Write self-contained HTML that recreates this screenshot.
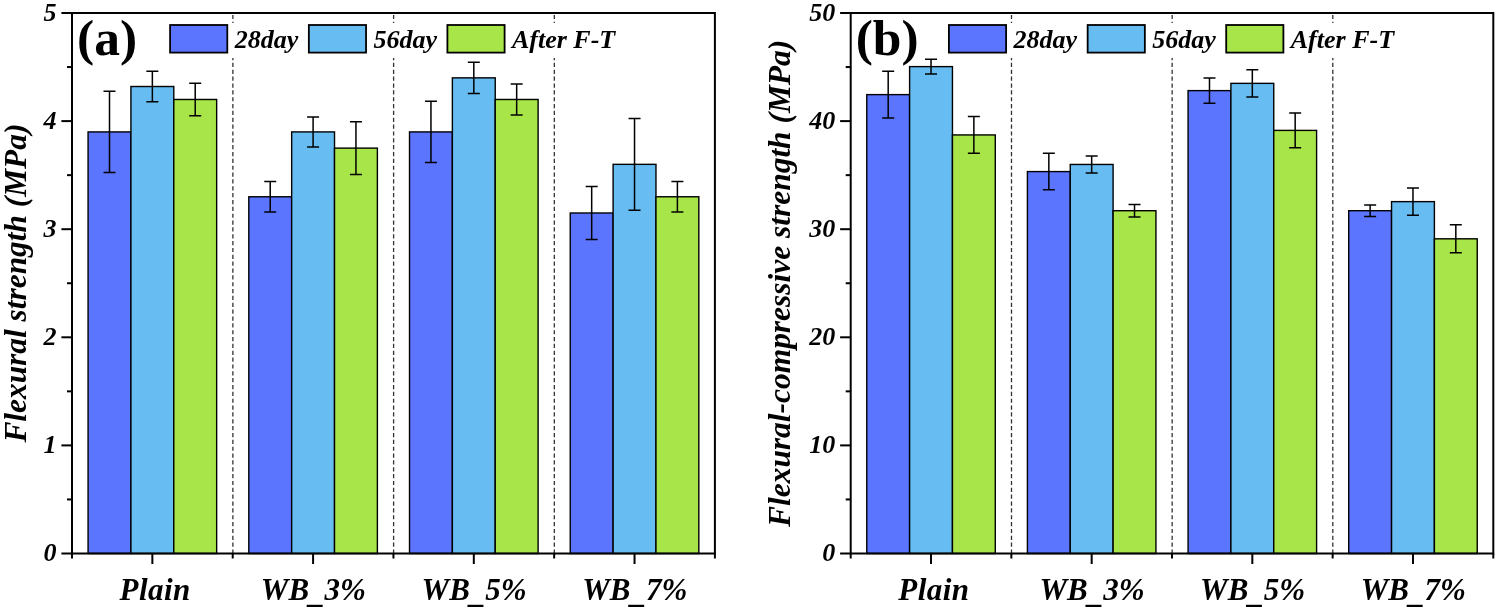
<!DOCTYPE html>
<html><head><meta charset="utf-8"><style>
html,body{margin:0;padding:0;background:#fff;}
body{width:1498px;height:610px;overflow:hidden;}
svg{display:block;will-change:transform;}
.bi{font-family:"Liberation Serif", serif;font-weight:bold;font-style:italic;fill:#000;}
.b{font-family:"Liberation Serif", serif;font-weight:bold;fill:#000;}
</style></head><body>
<svg width="1498" height="610" viewBox="0 0 1498 610">
<rect width="1498" height="610" fill="#fff"/>
<line x1="232.88" y1="14.90" x2="232.88" y2="553.50" stroke="#333" stroke-width="1.3" stroke-dasharray="4.2 2.653"/>
<line x1="393.60" y1="14.90" x2="393.60" y2="553.50" stroke="#333" stroke-width="1.3" stroke-dasharray="4.2 2.653"/>
<line x1="554.32" y1="14.90" x2="554.32" y2="553.50" stroke="#333" stroke-width="1.3" stroke-dasharray="4.2 2.653"/>
<rect x="88.07" y="131.91" width="42.86" height="421.59" fill="#5b75ff" stroke="#000" stroke-width="1.4"/>
<rect x="130.93" y="86.51" width="42.86" height="466.99" fill="#67bdf2" stroke="#000" stroke-width="1.4"/>
<rect x="173.79" y="99.48" width="42.86" height="454.02" fill="#a8e548" stroke="#000" stroke-width="1.4"/>
<path d="M109.50 91.37V172.45M103.50 91.37H115.50M103.50 172.45H115.50" stroke="#000" stroke-width="1.5" fill="none"/>
<path d="M152.36 71.37V101.64M146.36 71.37H158.36M146.36 101.64H158.36" stroke="#000" stroke-width="1.5" fill="none"/>
<path d="M195.22 83.26V115.70M189.22 83.26H201.22M189.22 115.70H201.22" stroke="#000" stroke-width="1.5" fill="none"/>
<rect x="248.80" y="196.77" width="42.86" height="356.73" fill="#5b75ff" stroke="#000" stroke-width="1.4"/>
<rect x="291.66" y="131.91" width="42.86" height="421.59" fill="#67bdf2" stroke="#000" stroke-width="1.4"/>
<rect x="334.52" y="148.12" width="42.86" height="405.38" fill="#a8e548" stroke="#000" stroke-width="1.4"/>
<path d="M270.23 181.42V212.12M264.23 181.42H276.23M264.23 212.12H276.23" stroke="#000" stroke-width="1.5" fill="none"/>
<path d="M313.09 116.88V146.94M307.09 116.88H319.09M307.09 146.94H319.09" stroke="#000" stroke-width="1.5" fill="none"/>
<path d="M355.95 121.75V174.50M349.95 121.75H361.95M349.95 174.50H361.95" stroke="#000" stroke-width="1.5" fill="none"/>
<rect x="409.52" y="131.91" width="42.86" height="421.59" fill="#5b75ff" stroke="#000" stroke-width="1.4"/>
<rect x="452.38" y="77.86" width="42.86" height="475.64" fill="#67bdf2" stroke="#000" stroke-width="1.4"/>
<rect x="495.24" y="99.48" width="42.86" height="454.02" fill="#a8e548" stroke="#000" stroke-width="1.4"/>
<path d="M430.95 101.21V162.61M424.95 101.21H436.95M424.95 162.61H436.95" stroke="#000" stroke-width="1.5" fill="none"/>
<path d="M473.81 62.19V93.53M467.81 62.19H479.81M467.81 93.53H479.81" stroke="#000" stroke-width="1.5" fill="none"/>
<path d="M516.67 83.91V115.05M510.67 83.91H522.67M510.67 115.05H522.67" stroke="#000" stroke-width="1.5" fill="none"/>
<rect x="570.25" y="212.99" width="42.86" height="340.51" fill="#5b75ff" stroke="#000" stroke-width="1.4"/>
<rect x="613.11" y="164.34" width="42.86" height="389.16" fill="#67bdf2" stroke="#000" stroke-width="1.4"/>
<rect x="655.97" y="196.77" width="42.86" height="356.73" fill="#a8e548" stroke="#000" stroke-width="1.4"/>
<path d="M591.68 186.50V239.47M585.68 186.50H597.68M585.68 239.47H597.68" stroke="#000" stroke-width="1.5" fill="none"/>
<path d="M634.54 118.51V210.17M628.54 118.51H640.54M628.54 210.17H640.54" stroke="#000" stroke-width="1.5" fill="none"/>
<path d="M677.40 181.53V212.01M671.40 181.53H683.40M671.40 212.01H683.40" stroke="#000" stroke-width="1.5" fill="none"/>
<rect x="165.20" y="23.0" width="456.00" height="35.0" fill="#fff"/>
<rect x="170.10" y="25.0" width="57.2" height="27.6" fill="#5b75ff" stroke="#000" stroke-width="1.8"/>
<text x="234.65" y="47.5" class="bi" font-size="26">28day</text>
<rect x="308.85" y="25.0" width="57.2" height="27.6" fill="#67bdf2" stroke="#000" stroke-width="1.8"/>
<text x="373.40" y="47.5" class="bi" font-size="26">56day</text>
<rect x="447.40" y="25.0" width="57.2" height="27.6" fill="#a8e548" stroke="#000" stroke-width="1.8"/>
<text x="511.95" y="47.5" class="bi" font-size="26">After F-T</text>
<rect x="72.00" y="13.00" width="642.90" height="540.50" fill="none" stroke="#000" stroke-width="2"/>
<line x1="61.40" y1="553.50" x2="72.00" y2="553.50" stroke="#000" stroke-width="2"/>
<text x="56.50" y="561.20" class="bi" font-size="26" text-anchor="end">0</text>
<line x1="67.00" y1="499.45" x2="72.00" y2="499.45" stroke="#000" stroke-width="2"/>
<line x1="61.40" y1="445.40" x2="72.00" y2="445.40" stroke="#000" stroke-width="2"/>
<text x="56.50" y="453.10" class="bi" font-size="26" text-anchor="end">1</text>
<line x1="67.00" y1="391.35" x2="72.00" y2="391.35" stroke="#000" stroke-width="2"/>
<line x1="61.40" y1="337.30" x2="72.00" y2="337.30" stroke="#000" stroke-width="2"/>
<text x="56.50" y="345.00" class="bi" font-size="26" text-anchor="end">2</text>
<line x1="67.00" y1="283.25" x2="72.00" y2="283.25" stroke="#000" stroke-width="2"/>
<line x1="61.40" y1="229.20" x2="72.00" y2="229.20" stroke="#000" stroke-width="2"/>
<text x="56.50" y="236.90" class="bi" font-size="26" text-anchor="end">3</text>
<line x1="67.00" y1="175.15" x2="72.00" y2="175.15" stroke="#000" stroke-width="2"/>
<line x1="61.40" y1="121.10" x2="72.00" y2="121.10" stroke="#000" stroke-width="2"/>
<text x="56.50" y="128.80" class="bi" font-size="26" text-anchor="end">4</text>
<line x1="67.00" y1="67.05" x2="72.00" y2="67.05" stroke="#000" stroke-width="2"/>
<line x1="61.40" y1="13.00" x2="72.00" y2="13.00" stroke="#000" stroke-width="2"/>
<text x="56.50" y="20.70" class="bi" font-size="26" text-anchor="end">5</text>
<line x1="72.00" y1="553.50" x2="72.00" y2="558.50" stroke="#000" stroke-width="2"/>
<line x1="232.72" y1="553.50" x2="232.72" y2="558.50" stroke="#000" stroke-width="2"/>
<line x1="393.45" y1="553.50" x2="393.45" y2="558.50" stroke="#000" stroke-width="2"/>
<line x1="554.17" y1="553.50" x2="554.17" y2="558.50" stroke="#000" stroke-width="2"/>
<line x1="714.90" y1="553.50" x2="714.90" y2="558.50" stroke="#000" stroke-width="2"/>
<line x1="152.36" y1="553.50" x2="152.36" y2="564.00" stroke="#000" stroke-width="2"/>
<text x="155.16" y="600" class="bi" font-size="31" letter-spacing="0.45" text-anchor="middle">Plain</text>
<line x1="313.09" y1="553.50" x2="313.09" y2="564.00" stroke="#000" stroke-width="2"/>
<text x="313.39" y="600" class="bi" font-size="31" text-anchor="middle">WB<tspan dy="2.5">_</tspan><tspan dy="-2.5">3%</tspan></text>
<line x1="473.81" y1="553.50" x2="473.81" y2="564.00" stroke="#000" stroke-width="2"/>
<text x="474.11" y="600" class="bi" font-size="31" text-anchor="middle">WB<tspan dy="2.5">_</tspan><tspan dy="-2.5">5%</tspan></text>
<line x1="634.54" y1="553.50" x2="634.54" y2="564.00" stroke="#000" stroke-width="2"/>
<text x="634.84" y="600" class="bi" font-size="31" text-anchor="middle">WB<tspan dy="2.5">_</tspan><tspan dy="-2.5">7%</tspan></text>
<text x="77.00" y="55.25" class="b" font-size="51.5">(a)</text>
<text transform="translate(26.00 442.60) rotate(-90)" class="bi" font-size="31.38">Flexural strength (MPa)</text>
<line x1="1011.50" y1="14.90" x2="1011.50" y2="553.50" stroke="#333" stroke-width="1.3" stroke-dasharray="4.2 2.653"/>
<line x1="1172.15" y1="14.90" x2="1172.15" y2="553.50" stroke="#333" stroke-width="1.3" stroke-dasharray="4.2 2.653"/>
<line x1="1332.80" y1="14.90" x2="1332.80" y2="553.50" stroke="#333" stroke-width="1.3" stroke-dasharray="4.2 2.653"/>
<rect x="866.77" y="94.62" width="42.84" height="458.88" fill="#5b75ff" stroke="#000" stroke-width="1.4"/>
<rect x="909.61" y="66.62" width="42.84" height="486.88" fill="#67bdf2" stroke="#000" stroke-width="1.4"/>
<rect x="952.45" y="134.94" width="42.84" height="418.56" fill="#a8e548" stroke="#000" stroke-width="1.4"/>
<path d="M888.19 71.16V118.07M882.19 71.16H894.19M882.19 118.07H894.19" stroke="#000" stroke-width="1.5" fill="none"/>
<path d="M931.03 59.16V74.08M925.03 59.16H937.03M925.03 74.08H937.03" stroke="#000" stroke-width="1.5" fill="none"/>
<path d="M973.87 116.56V153.31M967.87 116.56H979.87M967.87 153.31H979.87" stroke="#000" stroke-width="1.5" fill="none"/>
<rect x="1027.41" y="171.58" width="42.84" height="381.92" fill="#5b75ff" stroke="#000" stroke-width="1.4"/>
<rect x="1070.25" y="164.45" width="42.84" height="389.05" fill="#67bdf2" stroke="#000" stroke-width="1.4"/>
<rect x="1113.10" y="210.71" width="42.84" height="342.79" fill="#a8e548" stroke="#000" stroke-width="1.4"/>
<path d="M1048.84 153.31V189.85M1042.84 153.31H1054.84M1042.84 189.85H1054.84" stroke="#000" stroke-width="1.5" fill="none"/>
<path d="M1091.67 156.02V172.88M1085.67 156.02H1097.67M1085.67 172.88H1097.67" stroke="#000" stroke-width="1.5" fill="none"/>
<path d="M1134.52 204.55V216.88M1128.52 204.55H1140.52M1128.52 216.88H1140.52" stroke="#000" stroke-width="1.5" fill="none"/>
<rect x="1188.07" y="90.62" width="42.84" height="462.88" fill="#5b75ff" stroke="#000" stroke-width="1.4"/>
<rect x="1230.90" y="83.37" width="42.84" height="470.13" fill="#67bdf2" stroke="#000" stroke-width="1.4"/>
<rect x="1273.75" y="130.40" width="42.84" height="423.10" fill="#a8e548" stroke="#000" stroke-width="1.4"/>
<path d="M1209.49 77.97V103.26M1203.49 77.97H1215.49M1203.49 103.26H1215.49" stroke="#000" stroke-width="1.5" fill="none"/>
<path d="M1252.33 69.86V96.89M1246.33 69.86H1258.33M1246.33 96.89H1258.33" stroke="#000" stroke-width="1.5" fill="none"/>
<path d="M1295.17 113.10V147.69M1289.17 113.10H1301.17M1289.17 147.69H1301.17" stroke="#000" stroke-width="1.5" fill="none"/>
<rect x="1348.71" y="210.71" width="42.84" height="342.79" fill="#5b75ff" stroke="#000" stroke-width="1.4"/>
<rect x="1391.55" y="201.63" width="42.84" height="351.87" fill="#67bdf2" stroke="#000" stroke-width="1.4"/>
<rect x="1434.39" y="238.82" width="42.84" height="314.68" fill="#a8e548" stroke="#000" stroke-width="1.4"/>
<path d="M1370.13 204.99V216.44M1364.13 204.99H1376.13M1364.13 216.44H1376.13" stroke="#000" stroke-width="1.5" fill="none"/>
<path d="M1412.97 188.12V215.15M1406.97 188.12H1418.97M1406.97 215.15H1418.97" stroke="#000" stroke-width="1.5" fill="none"/>
<path d="M1455.82 224.77V252.87M1449.82 224.77H1461.82M1449.82 252.87H1461.82" stroke="#000" stroke-width="1.5" fill="none"/>
<rect x="944.00" y="23.0" width="456.00" height="35.0" fill="#fff"/>
<rect x="948.90" y="25.0" width="57.2" height="27.6" fill="#5b75ff" stroke="#000" stroke-width="1.8"/>
<text x="1013.45" y="47.5" class="bi" font-size="26">28day</text>
<rect x="1087.65" y="25.0" width="57.2" height="27.6" fill="#67bdf2" stroke="#000" stroke-width="1.8"/>
<text x="1152.20" y="47.5" class="bi" font-size="26">56day</text>
<rect x="1226.20" y="25.0" width="57.2" height="27.6" fill="#a8e548" stroke="#000" stroke-width="1.8"/>
<text x="1290.75" y="47.5" class="bi" font-size="26">After F-T</text>
<rect x="850.70" y="13.00" width="642.60" height="540.50" fill="none" stroke="#000" stroke-width="2"/>
<line x1="840.10" y1="553.50" x2="850.70" y2="553.50" stroke="#000" stroke-width="2"/>
<text x="835.20" y="561.20" class="bi" font-size="26" text-anchor="end">0</text>
<line x1="845.70" y1="499.45" x2="850.70" y2="499.45" stroke="#000" stroke-width="2"/>
<line x1="840.10" y1="445.40" x2="850.70" y2="445.40" stroke="#000" stroke-width="2"/>
<text x="835.20" y="453.10" class="bi" font-size="26" text-anchor="end">10</text>
<line x1="845.70" y1="391.35" x2="850.70" y2="391.35" stroke="#000" stroke-width="2"/>
<line x1="840.10" y1="337.30" x2="850.70" y2="337.30" stroke="#000" stroke-width="2"/>
<text x="835.20" y="345.00" class="bi" font-size="26" text-anchor="end">20</text>
<line x1="845.70" y1="283.25" x2="850.70" y2="283.25" stroke="#000" stroke-width="2"/>
<line x1="840.10" y1="229.20" x2="850.70" y2="229.20" stroke="#000" stroke-width="2"/>
<text x="835.20" y="236.90" class="bi" font-size="26" text-anchor="end">30</text>
<line x1="845.70" y1="175.15" x2="850.70" y2="175.15" stroke="#000" stroke-width="2"/>
<line x1="840.10" y1="121.10" x2="850.70" y2="121.10" stroke="#000" stroke-width="2"/>
<text x="835.20" y="128.80" class="bi" font-size="26" text-anchor="end">40</text>
<line x1="845.70" y1="67.05" x2="850.70" y2="67.05" stroke="#000" stroke-width="2"/>
<line x1="840.10" y1="13.00" x2="850.70" y2="13.00" stroke="#000" stroke-width="2"/>
<text x="835.20" y="20.70" class="bi" font-size="26" text-anchor="end">50</text>
<line x1="850.70" y1="553.50" x2="850.70" y2="558.50" stroke="#000" stroke-width="2"/>
<line x1="1011.35" y1="553.50" x2="1011.35" y2="558.50" stroke="#000" stroke-width="2"/>
<line x1="1172.00" y1="553.50" x2="1172.00" y2="558.50" stroke="#000" stroke-width="2"/>
<line x1="1332.65" y1="553.50" x2="1332.65" y2="558.50" stroke="#000" stroke-width="2"/>
<line x1="1493.30" y1="553.50" x2="1493.30" y2="558.50" stroke="#000" stroke-width="2"/>
<line x1="931.03" y1="553.50" x2="931.03" y2="564.00" stroke="#000" stroke-width="2"/>
<text x="933.83" y="600" class="bi" font-size="31" letter-spacing="0.45" text-anchor="middle">Plain</text>
<line x1="1091.67" y1="553.50" x2="1091.67" y2="564.00" stroke="#000" stroke-width="2"/>
<text x="1091.97" y="600" class="bi" font-size="31" text-anchor="middle">WB<tspan dy="2.5">_</tspan><tspan dy="-2.5">3%</tspan></text>
<line x1="1252.33" y1="553.50" x2="1252.33" y2="564.00" stroke="#000" stroke-width="2"/>
<text x="1252.62" y="600" class="bi" font-size="31" text-anchor="middle">WB<tspan dy="2.5">_</tspan><tspan dy="-2.5">5%</tspan></text>
<line x1="1412.97" y1="553.50" x2="1412.97" y2="564.00" stroke="#000" stroke-width="2"/>
<text x="1413.27" y="600" class="bi" font-size="31" text-anchor="middle">WB<tspan dy="2.5">_</tspan><tspan dy="-2.5">7%</tspan></text>
<text x="855.70" y="55.25" class="b" font-size="51.5">(b)</text>
<text transform="translate(790.00 527.00) rotate(-90)" class="bi" font-size="31.45">Flexural-compressive strength (MPa)</text>
</svg>
</body></html>
